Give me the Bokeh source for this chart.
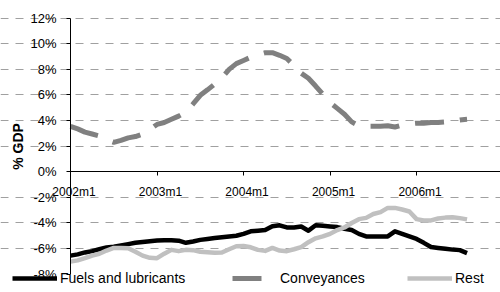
from bokeh.plotting import figure
from bokeh.models import FixedTicker, PrintfTickFormatter, Legend, LegendItem, Range1d
from bokeh.core.properties import value
from bokeh.embed import file_html
from bokeh.resources import INLINE

# ---- data -------------------------------------------------------------
months = [f"{y}m{m}" for y in range(2002, 2007) for m in range(1, 13)][:56]

fuels = [-6.55, -6.45, -6.30, -6.20, -6.05, -5.92, -5.85, -5.75, -5.65, -5.55,
         -5.48, -5.42, -5.37, -5.35, -5.35, -5.38, -5.55, -5.45, -5.32, -5.25,
         -5.18, -5.12, -5.05, -5.00, -4.85, -4.65, -4.60, -4.55, -4.25, -4.18,
         -4.35, -4.35, -4.28, -4.60, -4.18, -4.22, -4.27, -4.32, -4.45, -4.55,
         -4.85, -5.05, -5.05, -5.05, -5.05, -4.65, -4.85, -5.05, -5.25, -5.55,
         -5.88, -5.95, -6.02, -6.08, -6.12, -6.35]

conveyances = [3.55, 3.35, 3.10, 2.95, 2.80, 2.50, 2.30, 2.45, 2.65, 2.75,
               2.95, 3.30, 3.70, 3.85, 4.10, 4.35, 4.65, 5.30, 5.97, 6.40,
               6.85, 7.35, 8.00, 8.45, 8.70, 8.95, 9.15, 9.30, 9.30, 9.10,
               8.85, 8.30, 7.70, 7.30, 6.70, 6.05, 5.40, 4.95, 4.50, 3.90,
               3.60, 3.55, 3.55, 3.55, 3.60, 3.50, 3.65, 3.75, 3.80, 3.80,
               3.85, 3.85, 3.90, 3.95, 4.05, 4.10]

rest = [-7.02, -6.92, -6.75, -6.55, -6.40, -6.15, -5.95, -5.95, -5.98, -6.25,
        -6.55, -6.72, -6.75, -6.40, -6.10, -6.20, -6.10, -6.12, -6.25, -6.28,
        -6.32, -6.30, -6.05, -5.82, -5.80, -5.90, -6.10, -6.18, -5.95, -6.15,
        -6.20, -6.05, -5.88, -5.50, -5.20, -5.05, -4.85, -4.55, -4.35, -4.00,
        -3.70, -3.60, -3.30, -3.15, -2.82, -2.82, -2.95, -3.10, -3.70, -3.80,
        -3.80, -3.65, -3.58, -3.55, -3.62, -3.72]

x_tick_labels = ["2002m1", "2003m1", "2004m1", "2005m1", "2006m1"]
y_ticks = [-8, -6, -4, -2, 0, 2, 4, 6, 8, 10, 12]
grid_ticks = [-6, -4, -2, 2, 4, 6, 8, 10, 12]

series_names = ["Fuels and lubricants", "Conveyances", "Rest"]

# ---- figure -----------------------------------------------------------
FONT = "Liberation Sans"
x = list(range(len(months)))
X_END = 59.64

p = figure(width=500, height=292, output_backend="svg", toolbar_location=None,
           x_range=Range1d(-9.71, X_END), y_range=Range1d(-9.43, 13.38),
           min_border_left=0, min_border_right=0, min_border_top=0,
           min_border_bottom=0)
p.outline_line_color = None
p.background_fill_color = "white"

# y axis, drawn at the first month
yax = p.yaxis[0]
yax.fixed_location = 0
yax.bounds = (-8, 12)
yax.ticker = FixedTicker(ticks=y_ticks)
yax.formatter = PrintfTickFormatter(format="%d%%")
yax.minor_tick_line_color = None
yax.major_tick_out = 4
yax.major_tick_in = 0
yax.major_label_standoff = 10
yax.axis_line_color = "black"
yax.major_tick_line_color = "black"
yax.major_label_text_font = FONT
yax.major_label_text_font_size = "13px"
yax.major_label_text_color = "black"
yax.axis_label = "% GDP"
yax.axis_label_text_font = FONT
yax.axis_label_text_font_size = "14px"
yax.axis_label_text_font_style = "bold"
yax.axis_label_text_color = "black"
yax.axis_label_standoff = 1

# x axis drawn at y = 0
xax = p.xaxis[0]
xax.fixed_location = 0
xax.bounds = (0, X_END)
tick_pos = [months.index(t) for t in x_tick_labels]
xax.ticker = FixedTicker(ticks=tick_pos)
xax.minor_tick_line_color = None
xax.major_tick_out = 4
xax.major_tick_in = 0
xax.axis_line_color = "black"
xax.major_tick_line_color = "black"
xax.major_label_text_color = None

# x tick labels (slightly right of their ticks, as in the reference)
p.text(x=tick_pos, y=[0] * len(tick_pos), text=x_tick_labels,
       x_offset=3.5, y_offset=20, text_align="center", text_baseline="middle",
       text_font=value(FONT), text_font_size="12px", text_color="black")

# grids
p.xgrid.grid_line_color = None
p.ygrid.ticker = FixedTicker(ticks=grid_ticks)
p.ygrid.bounds = (0, X_END)
p.ygrid.grid_line_color = "#a0a0a0"
p.ygrid.grid_line_dash = "8 7"
p.ygrid.grid_line_width = 1

# series
r_conv = p.line(x, conveyances, line_color="#808080", line_width=5,
                line_dash="29 16", line_cap="butt")
r_fuel = p.line(x, fuels, line_color="black", line_width=4.5, line_join="round")
r_rest = p.line(x, rest, line_color="#c0c0c0", line_width=4.5, line_join="round")

# legends (three separate entries positioned along the bottom)
leg_x = [12, 232, 407]
for name, r, lx in zip(series_names, [r_fuel, r_conv, r_rest], leg_x):
    leg = Legend(items=[LegendItem(label=name, renderers=[r])],
                 location=(lx, 6), orientation="horizontal",
                 glyph_width=45, glyph_height=14, label_height=14,
                 label_standoff=3, padding=0, margin=0, spacing=0,
                 border_line_alpha=0, background_fill_alpha=0,
                 label_text_font=FONT, label_text_font_size="14px",
                 label_text_color="black")
    p.add_layout(leg, "center")

open("out.html", "w").write(file_html(p, INLINE))
